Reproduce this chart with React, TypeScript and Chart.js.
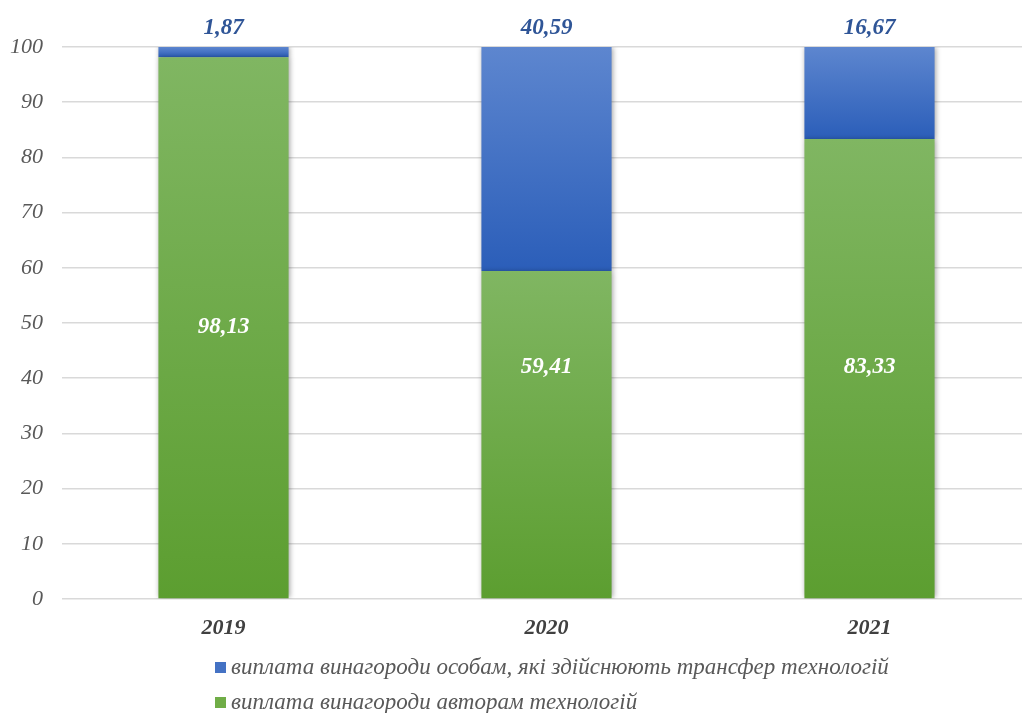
import React, { useEffect, useRef } from "react";
import { Chart, registerables } from "chart.js";

Chart.register(...registerables);

const categories = ["2019", "2020", "2021"];
const authorsValues = [98.13, 59.41, 83.33];
const transferValues = [1.87, 40.59, 16.67];
const authorsLabel = "виплата винагороди авторам технологій";
const transferLabel = "виплата винагороди особам, які здійснюють трансфер технологій";
const yTicks = [0, 10, 20, 30, 40, 50, 60, 70, 80, 90, 100];
// value (in y units) where the inner white label is anchored
const innerLabelAt = [49.3, 42, 42];

const fmt = (v: number) => v.toFixed(2).replace(".", ",");

const FONT = "'Liberation Serif', 'Times New Roman', serif";

export default function App() {
  const ref = useRef<HTMLCanvasElement | null>(null);

  useEffect(() => {
    const canvas = ref.current;
    if (!canvas) return;

    const grad = (ctx: any, top: string, bottom: string, vTop: number, vBase: number) => {
      const chart = ctx.chart;
      const y = chart.scales && chart.scales.y;
      if (!y || !chart.chartArea) return bottom;
      const yt = y.getPixelForValue(vTop);
      const yb = y.getPixelForValue(vBase);
      if (!isFinite(yt) || !isFinite(yb) || yt === yb) return bottom;
      const g = chart.ctx.createLinearGradient(0, yt, 0, yb);
      g.addColorStop(0, top);
      g.addColorStop(1, bottom);
      return g;
    };

    const overlay = {
      id: "overlay",
      beforeDatasetsDraw(chart: any) {
        const c = chart.ctx;
        c.save();
        c.shadowColor = "rgba(0,0,0,0.35)";
        c.shadowBlur = 5;
        c.shadowOffsetX = 1;
        c.shadowOffsetY = 0;
      },
      afterDatasetsDraw(chart: any) {
        const c = chart.ctx;
        c.restore();
        const y = chart.scales.y;
        const metaG = chart.getDatasetMeta(0);
        const metaB = chart.getDatasetMeta(1);
        c.save();
        c.textAlign = "center";
        c.textBaseline = "middle";
        c.font = `italic bold 23px ${FONT}`;
        metaG.data.forEach((bar: any, i: number) => {
          c.fillStyle = "#ffffff";
          c.fillText(fmt(authorsValues[i]), bar.x, y.getPixelForValue(innerLabelAt[i]));
        });
        metaB.data.forEach((bar: any, i: number) => {
          c.fillStyle = "#2f5597";
          c.fillText(fmt(transferValues[i]), bar.x, bar.y - 19);
        });
        c.restore();
      },
      afterDraw(chart: any) {
        const c = chart.ctx;
        c.save();
        c.font = `italic 23px ${FONT}`;
        c.textBaseline = "middle";
        c.textAlign = "left";
        const rows = [
          { color: "#4472c4", text: transferLabel, yc: 668 },
          { color: "#70ad47", text: authorsLabel, yc: 703 },
        ];
        rows.forEach((r) => {
          c.fillStyle = r.color;
          c.fillRect(215, r.yc - 6, 11, 11);
          c.fillStyle = "#595959";
          c.fillText(r.text, 231, r.yc);
        });
        c.restore();
      },
    };

    const chart = new Chart(canvas, {
      type: "bar",
      data: {
        labels: categories,
        datasets: [
          {
            label: authorsLabel,
            data: authorsValues,
            backgroundColor: (ctx: any) =>
              grad(ctx, "#80b662", "#5c9e30", authorsValues[ctx.dataIndex] ?? 0, 0),
            borderWidth: 0,
            categoryPercentage: 1,
            barPercentage: 0.403,
          },
          {
            label: transferLabel,
            data: transferValues,
            backgroundColor: (ctx: any) => {
              const i = ctx.dataIndex ?? 0;
              const base = authorsValues[i] ?? 0;
              return grad(ctx, "#5d86cf", "#2b5eb9", base + (transferValues[i] ?? 0), base);
            },
            borderWidth: 0,
            categoryPercentage: 1,
            barPercentage: 0.403,
          },
        ],
      },
      options: {
        responsive: false,
        animation: false,
        devicePixelRatio: 1,
        layout: { padding: { top: 47, right: 1, bottom: 0, left: 0 } },
        plugins: {
          legend: { display: false },
          tooltip: { enabled: false },
        },
        scales: {
          x: {
            stacked: true,
            grid: { display: false, drawTicks: false },
            border: { display: false },
            ticks: {
              padding: 16,
              color: "#404040",
              font: { family: FONT, size: 22, style: "italic", weight: "bold" },
            },
            afterFit(scale: any) {
              scale.height = 114;
            },
          },
          y: {
            stacked: true,
            min: 0,
            max: 100,
            afterBuildTicks(scale: any) {
              scale.ticks = yTicks.map((v) => ({ value: v }));
            },
            grid: { color: "#d9d9d9", lineWidth: 1.5, drawTicks: false },
            border: { display: false },
            ticks: {
              padding: 19,
              color: "#595959",
              font: { family: FONT, size: 22, style: "italic" },
            },
            afterFit(scale: any) {
              scale.width = 62;
            },
          },
        },
      },
      plugins: [overlay],
    } as any);

    return () => chart.destroy();
  }, []);

  return (
    <div
      style={{
        position: "absolute",
        left: 0,
        top: 0,
        width: 1022,
        height: 713,
        overflow: "hidden",
        background: "#ffffff",
      }}
    >
      <canvas ref={ref} width={1032} height={713} style={{ display: "block" }} />
    </div>
  );
}
